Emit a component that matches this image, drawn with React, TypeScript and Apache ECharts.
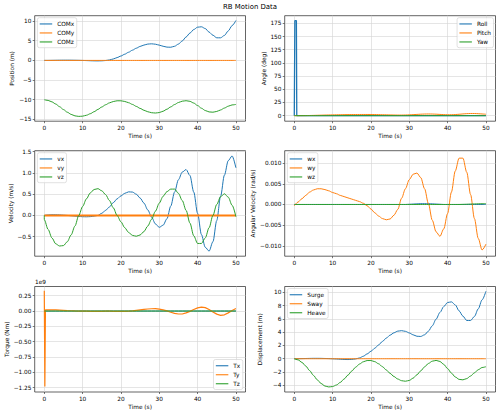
import React, { useEffect, useRef } from "react";
import * as echarts from "echarts";

// ---------- data ----------
const TIME = [0, 1, 2, 3, 4, 5, 6, 7, 8, 9, 10, 11, 12, 13, 14, 15, 16, 17, 18, 19, 20, 21, 22, 23, 24, 25, 26, 27, 28, 29, 30, 31, 32, 33, 34, 35, 36, 37, 38, 39, 40, 41, 42, 43, 44, 45, 46, 47, 48, 49, 50];
const TIME_AFTER_START = [1, 2, 3, 4, 5, 6, 7, 8, 9, 10, 11, 12, 13, 14, 15, 16, 17, 18, 19, 20, 21, 22, 23, 24, 25, 26, 27, 28, 29, 30, 31, 32, 33, 34, 35, 36, 37, 38, 39, 40, 41, 42, 43, 44, 45, 46, 47, 48, 49, 50];

// Position (m)
const COMX = [0, 0.005, 0.02, 0.035, 0.05, 0.06, 0.06, 0.055, 0.04, 0.02, -0.01, -0.04, -0.08, -0.11, -0.12, -0.1, -0.03, 0.12, 0.37, 0.72, 1.12, 1.58, 2.08, 2.6, 3.1, 3.55, 3.9, 4.15, 4.22, 4.12, 3.88, 3.6, 3.38, 3.35, 3.6, 4.15, 4.95, 5.95, 6.95, 7.85, 8.45, 8.55, 8.1, 7.2, 6.4, 5.75, 5.75, 6.35, 7.5, 8.85, 10.15];
const COMY = [0, 0, 0, 0, 0, 0, 0, 0, 0, 0, 0, 0, 0, 0, 0, 0, 0, 0, 0, 0, 0, 0, 0, 0, 0, 0, 0, 0, 0, 0, 0, 0, 0, 0, 0, 0, 0, 0, 0, 0, 0, 0, 0, 0, 0, 0, 0, 0, 0, 0, 0];
const COMZ = [-10, -10.17, -10.55, -11.1, -11.78, -12.5, -13.17, -13.72, -14.1, -14.24, -14.18, -13.95, -13.56, -13.05, -12.46, -11.85, -11.28, -10.8, -10.46, -10.27, -10.27, -10.44, -10.76, -11.19, -11.69, -12.2, -12.67, -13.05, -13.3, -13.38, -13.26, -12.92, -12.41, -11.82, -11.22, -10.71, -10.37, -10.25, -10.41, -10.85, -11.48, -12.16, -12.74, -13.1, -13.17, -12.98, -12.6, -12.12, -11.65, -11.32, -11.2];

// Angle (deg)
const ROLL_START_TIME = [0, 0.15, 0.55, 0.65];
const ROLL_START = [0, 180, 180, 0];
const ROLL = [0, 0, 0, 0, 0, 0, 0, 0, 0, 0, 0, 0, 0, 0, 0, 0, 0, 0, 0, 0, 0, 0, 0, 0, 0, 0, 0, 0, 0, 0, 0, 0, 0, 0, 0, 0, 0, 0, 0, 0, 0, 0, 0, 0, 0, 0, 0, 0, 0, 0];
const PITCH = [0, 0.01, 0.07, 0.17, 0.32, 0.5, 0.71, 0.93, 1.14, 1.34, 1.52, 1.68, 1.81, 1.93, 2.03, 2.11, 2.18, 2.23, 2.26, 2.26, 2.22, 2.13, 1.99, 1.81, 1.61, 1.4, 1.23, 1.12, 1.13, 1.28, 1.56, 1.94, 2.37, 2.77, 3.07, 3.18, 3.08, 2.78, 2.37, 1.98, 1.75, 1.77, 2.09, 2.64, 3.29, 3.83, 4.12, 4.09, 3.76, 3.21, 2.62];
const YAW = [0, 0, 0, 0, 0, 0, 0, 0, 0, 0, 0, 0, 0, 0, 0, 0, 0, 0, 0, 0, 0, 0, 0, 0, 0, 0, 0, 0, 0, 0, 0, 0, 0, 0, 0, 0, 0, 0, 0, 0, 0, 0, 0, 0, 0, 0, 0, 0, 0, 0, 0];

// Velocity (m/s)
const VX = [0, 0.01, 0.015, 0.015, 0.012, 0.006, 0, -0.008, -0.016, -0.024, -0.03, -0.032, -0.028, -0.016, 0, 0.05, 0.12, 0.2, 0.3, 0.39, 0.46, 0.52, 0.555, 0.55, 0.5, 0.41, 0.29, 0.13, -0.04, -0.2, -0.28, -0.23, -0.08, 0.22, 0.55, 0.84, 1.02, 1.08, 0.94, 0.55, 0.05, -0.45, -0.75, -0.84, -0.62, -0.12, 0.45, 0.95, 1.29, 1.4, 1.12];
const VY = [0, 0, 0, 0, 0, 0, 0, 0, 0, 0, 0, 0, 0, 0, 0, 0, 0, 0, 0, 0, 0, 0, 0, 0, 0, 0, 0, 0, 0, 0, 0, 0, 0, 0, 0, 0, 0, 0, 0, 0, 0, 0, 0, 0, 0, 0, 0, 0, 0, 0, 0];
const VZ_INITIAL = 0;
const VZ = [-0.1, -0.33, -0.53, -0.67, -0.72, -0.71, -0.62, -0.46, -0.25, 0, 0.21, 0.39, 0.53, 0.61, 0.63, 0.58, 0.49, 0.35, 0.18, 0, -0.15, -0.29, -0.4, -0.47, -0.49, -0.46, -0.38, -0.25, -0.09, 0.1, 0.29, 0.45, 0.56, 0.62, 0.62, 0.52, 0.35, 0.12, -0.18, -0.48, -0.66, -0.66, -0.53, -0.29, 0, 0.26, 0.44, 0.51, 0.43, 0.24, -0.03];

// Angular velocity (rad/s)
const WX = [0, 0, 0, 0, 0, 0, 0, 0, 0, 0, 0, 0, 0, 0, 0, 0, 0, 0, 0, 0, 0, 0, 0, 0, 0, 0, 0, 0, 0, 0, 0.00005, 0.0001, 0.00015, 0.0002, 0.0002, 0.0002, 0.00015, 0.0001, 0.00005, 0, 0, 0, 0, 0, 0, 0, 0, 0, 0, 0, 0];
const WY = [-0.0003, 0.0006, 0.0014, 0.0022, 0.003, 0.0035, 0.0038, 0.0038, 0.0036, 0.0033, 0.0029, 0.0026, 0.0022, 0.0019, 0.0016, 0.0013, 0.001, 0.0007, 0.0003, -0.0003, -0.0011, -0.002, -0.0028, -0.0034, -0.0037, -0.0035, -0.0026, -0.0012, 0.0015, 0.0038, 0.006, 0.0073, 0.0076, 0.0065, 0.0038, 0.0002, -0.0038, -0.0066, -0.0077, -0.0059, -0.0022, 0.003, 0.0081, 0.0112, 0.0112, 0.0078, 0.0024, -0.0034, -0.0082, -0.011, -0.0096];
const WZ = [0, 0, 0, 0, 0, 0, 0, 0, 0, 0, 0, 0, 0, 0, 0, 0, 0, 0, 0, 0, 0, 0, 0, 0, 0, 0, 0, 0, 0, 0, 0, 0, 0, 0, 0, 0, 0, 0, 0, 0, 0, 0, 0, 0, 0.00003, 0.00006, 0.0001, 0.00013, 0.00016, 0.00018, 0.0002];

// Torque (Nm)
const TX = [0, 0, 0, 0, 0, 0, 0, 0, 0, 0, 0, 0, 0, 0, 0, 0, 0, 0, 0, 0, 0, 0, 0, 0, 0, 0, 0, 0, 0, 0, 0, 0, 0, 0, 0, 0, 0, 0, 0, 0, 0, 0, 0, 0, 0, 0, 0, 0, 0, 0, 0];
const TY_START_TIME = [0, 0.15, 0.3];
const TY_START = [0.33e9, -1.23e9, 0.02e9];
const TY = [0.02e9, 0.02e9, 0.018e9, 0.015e9, 0.012e9, 0.008e9, 0.005e9, 0.002e9, 0, -0.002e9, -0.003e9, -0.004e9, -0.004e9, -0.004e9, -0.004e9, -0.003e9, -0.003e9, -0.004e9, -0.005e9, -0.006e9, -0.005e9, -0.002e9, 0.004e9, 0.012e9, 0.02e9, 0.027e9, 0.033e9, 0.037e9, 0.038e9, 0.032e9, 0.02e9, 0.002e9, -0.02e9, -0.038e9, -0.048e9, -0.048e9, -0.03e9, -0.005e9, 0.025e9, 0.052e9, 0.064e9, 0.055e9, 0.025e9, -0.015e9, -0.05e9, -0.07e9, -0.062e9, -0.03e9, 0.01e9, 0.04e9];
const TZ = [0, 0, 0, 0, 0, 0, 0, 0, 0, 0, 0, 0, 0, 0, 0, 0, 0, 0, 0, 0, 0, 0, 0, 0, 0, 0, 0, 0, 0, 0, 0, 0, 0, 0, 0, 0, 0, 0, 0, 0, 0, 0, 0, 0, 0, 0, 0, 0, 0, 0, 0];

// Displacement (m)
const SURGE = [0, 0.005, 0.02, 0.035, 0.05, 0.06, 0.06, 0.055, 0.04, 0.02, -0.01, -0.04, -0.08, -0.11, -0.12, -0.1, -0.03, 0.12, 0.37, 0.72, 1.12, 1.58, 2.08, 2.6, 3.1, 3.55, 3.9, 4.15, 4.22, 4.12, 3.88, 3.6, 3.38, 3.35, 3.6, 4.15, 4.95, 5.95, 6.95, 7.85, 8.45, 8.55, 8.1, 7.2, 6.4, 5.75, 5.75, 6.35, 7.5, 8.85, 10.15];
const SWAY = [0, 0, 0, 0, 0, 0, 0, 0, 0, 0, 0, 0, 0, 0, 0, 0, 0, 0, 0, 0, 0, 0, 0, 0, 0, 0, 0, 0, 0, 0, 0, 0, 0, 0, 0, 0, 0, 0, 0, 0, 0, 0, 0, 0, 0, 0, 0, 0, 0, 0, 0];
const HEAVE = [0, -0.17, -0.55, -1.1, -1.78, -2.5, -3.17, -3.72, -4.1, -4.24, -4.18, -3.95, -3.56, -3.05, -2.46, -1.85, -1.28, -0.8, -0.46, -0.27, -0.27, -0.44, -0.76, -1.19, -1.69, -2.2, -2.67, -3.05, -3.3, -3.38, -3.26, -2.92, -2.41, -1.82, -1.22, -0.71, -0.37, -0.25, -0.41, -0.85, -1.48, -2.16, -2.74, -3.1, -3.17, -2.98, -2.6, -2.12, -1.65, -1.32, -1.2];

// tick labels
const TIME_TICKS = [0, 10, 20, 30, 40, 50];
const POS_TICKS = [-15, -10, -5, 0, 5, 10];
const ANGLE_TICKS = [0, 25, 50, 75, 100, 125, 150, 175];
const VEL_TICKS = [-0.5, 0, 0.5, 1.0, 1.5];
const ANGVEL_TICKS = [-0.01, -0.005, 0, 0.005, 0.01];
const TORQUE_TICKS = [-1.25e9, -1e9, -0.75e9, -0.5e9, -0.25e9, 0, 0.25e9];
const DISP_TICKS = [-4, -2, 0, 2, 4, 6, 8, 10];

const TITLE = "RB Motion Data";

// ---------- styling ----------
const FONT = "'DejaVu Sans', 'Liberation Sans', sans-serif";
const BLUE = "#1f77b4";
const ORANGE = "#ff7f0e";
const GREEN = "#2ca02c";
const FS = 5.8;
const INK = "#000000";

const xy = (t: number[], v: number[]) => t.map((x, i) => [x, v[i]]);
const fmt = (d: number, scale = 1) => (v: number) => {
  const s = Math.abs(v / scale).toFixed(d);
  return (v < 0 ? "\u2212" : "") + s;
};

const LEFT_COL = 34.7;
const RIGHT_COL = 284.7;
const COL_W = 210.8;
const ROWS = [15.7, 150.7, 286.5];
const ROW_H = 105.5;

function App() {
  const ref = useRef<HTMLDivElement>(null);

  useEffect(() => {
    document.body.style.margin = "0";
    if (!ref.current) return;
    const chart = echarts.init(ref.current, null, { renderer: "svg" });

    const cells = [
      { left: LEFT_COL, top: ROWS[0] },
      { left: RIGHT_COL, top: ROWS[0] },
      { left: LEFT_COL, top: ROWS[1] },
      { left: RIGHT_COL, top: ROWS[1] },
      { left: LEFT_COL, top: ROWS[2] },
      { left: RIGHT_COL, top: ROWS[2] },
    ];

    const grid = cells.map((c) => ({
      left: c.left,
      top: c.top,
      width: COL_W,
      height: ROW_H,
      show: true,
      borderColor: "#222",
      borderWidth: 0.7,
      backgroundColor: "transparent",
      containLabel: false,
      outerBoundsMode: "none",
    }));

    const textStyle = { fontSize: FS, color: INK, fontFamily: FONT, fontWeight: "normal" };

    const xAxis = cells.map((_, i) => ({
      type: "value",
      gridIndex: i,
      min: -2.5,
      max: 52.5,
      minInterval: 10,
      maxInterval: 10,
      name: "Time (s)",
      nameLocation: "middle",
      nameGap: 11.5,
      nameTextStyle: { ...textStyle },
      axisLine: { show: false, onZero: false, lineStyle: { color: INK } },
      axisTick: { show: true, length: 2, customValues: TIME_TICKS, lineStyle: { color: "#222", width: 0.6 } },
      axisLabel: { ...textStyle, margin: 3.6, customValues: TIME_TICKS, formatter: fmt(0) },
      splitLine: { show: true, lineStyle: { color: "#d4d4d4", width: 0.6 } },
    }));

    const yDefs = [
      { name: "Position (m)", min: -15.46, max: 11.37, step: 5, ticks: POS_TICKS, f: fmt(0), gap: 19.2 },
      { name: "Angle (deg)", min: -10.5, max: 189.5, step: 25, ticks: ANGLE_TICKS, f: fmt(0), gap: 16.4 },
      { name: "Velocity (m/s)", min: -0.96, max: 1.524, step: 0.5, ticks: VEL_TICKS, f: fmt(1), gap: 19.2 },
      { name: "Angular Velocity (rad/s)", min: -0.0125, max: 0.013, step: 0.005, ticks: ANGVEL_TICKS, f: fmt(3), gap: 26.4 },
      { name: "Torque (Nm)", min: -1.32e9, max: 0.4e9, step: 0.25e9, ticks: TORQUE_TICKS, f: fmt(2, 1e9), gap: 24.7 },
      { name: "Displacement (m)", min: -5.0, max: 10.86, step: 2, ticks: DISP_TICKS, f: fmt(0), gap: 21.4 },
    ];

    const yAxis = yDefs.map((d, i) => ({
      type: "value",
      gridIndex: i,
      min: d.min,
      max: d.max,
      minInterval: d.step,
      maxInterval: d.step,
      name: d.name,
      nameLocation: "middle",
      nameGap: d.gap,
      nameTextStyle: { ...textStyle },
      axisLine: { show: false, onZero: false, lineStyle: { color: INK } },
      axisTick: { show: true, length: 2, customValues: d.ticks, lineStyle: { color: "#222", width: 0.6 } },
      axisLabel: { ...textStyle, margin: 3.2, customValues: d.ticks, formatter: d.f },
      splitLine: { show: true, lineStyle: { color: "#d4d4d4", width: 0.6 } },
    }));

    const line = (name: string, idx: number, color: string, data: number[][], opts: any = {}) => ({
      type: "line",
      name,
      xAxisIndex: idx,
      yAxisIndex: idx,
      data,
      symbol: "none",
      showSymbol: false,
      smooth: opts.smooth ?? 0.3,
      smoothMonotone: "x",
      color,
      itemStyle: { color },
      lineStyle: { color, width: opts.width ?? 1.0 },
      emphasis: { disabled: true },
      silent: true,
    });

    const series = [
      line("COMx", 0, BLUE, xy(TIME, COMX)),
      line("COMy", 0, ORANGE, xy(TIME, COMY)),
      line("COMz", 0, GREEN, xy(TIME, COMZ)),
      line("Roll", 1, BLUE, [...xy(ROLL_START_TIME, ROLL_START), ...xy(TIME_AFTER_START, ROLL)], { smooth: false, width: 1.3 }),
      line("Pitch", 1, ORANGE, xy(TIME, PITCH)),
      line("Yaw", 1, GREEN, xy(TIME, YAW)),
      line("vx", 2, BLUE, xy(TIME, VX)),
      line("vy", 2, ORANGE, xy(TIME, VY), { width: 1.9 }),
      line("vz", 2, GREEN, [[0, VZ_INITIAL], ...xy(TIME, VZ)]),
      line("wx", 3, BLUE, xy(TIME, WX)),
      line("wy", 3, ORANGE, xy(TIME, WY)),
      line("wz", 3, GREEN, xy(TIME, WZ)),
      line("Tx", 4, BLUE, xy(TIME, TX), { smooth: false }),
      line("Ty", 4, ORANGE, [...xy(TY_START_TIME, TY_START), ...xy(TIME_AFTER_START, TY)], { smooth: false, width: 1.2 }),
      line("Tz", 4, GREEN, xy(TIME, TZ), { smooth: false }),
      line("Surge", 5, BLUE, xy(TIME, SURGE)),
      line("Sway", 5, ORANGE, xy(TIME, SWAY)),
      line("Heave", 5, GREEN, xy(TIME, HEAVE)),
    ];

    const legendBase = {
      orient: "vertical",
      icon: "rect",
      itemWidth: 12.5,
      itemHeight: 1.1,
      itemGap: 2.5,
      padding: [3, 2.5, 2.5, 2.3],
      selectedMode: false,
      backgroundColor: "rgba(255,255,255,0.8)",
      borderColor: "#cccccc",
      borderWidth: 0.6,
      borderRadius: 2,
      textStyle: { ...textStyle, lineHeight: 6.5 },
    };

    const legend = [
      { ...legendBase, data: ["COMx", "COMy", "COMz"], left: 37.4, top: 17.7 },
      { ...legendBase, data: ["Roll", "Pitch", "Yaw"], right: 6.5, top: 17.7 },
      { ...legendBase, data: ["vx", "vy", "vz"], left: 37.4, top: 152.7 },
      { ...legendBase, data: ["wx", "wy", "wz"], left: 287.4, top: 152.7 },
      { ...legendBase, data: ["Tx", "Ty", "Tz"], right: 257.2, bottom: 24.5 },
      { ...legendBase, data: ["Surge", "Sway", "Heave"], left: 287.4, top: 288.5 },
    ];

    chart.setOption({
      animation: false,
      backgroundColor: "#fff",
      textStyle: { fontFamily: FONT, color: INK },
      title: {
        text: TITLE,
        left: "center",
        top: 2.7,
        padding: 0,
        textStyle: { fontSize: 6.95, lineHeight: 8, fontWeight: "normal", color: INK, fontFamily: FONT },
      },
      grid,
      xAxis,
      yAxis,
      legend,
      series,
      graphic: [
        {
          type: "text",
          left: 35,
          top: 278.5,
          style: { text: "1e9", fontSize: FS, fill: INK, fontFamily: FONT },
        },
      ],
    });

    return () => chart.dispose();
  }, []);

  return <div ref={ref} style={{ width: 500, height: 414 }} />;
}

export default App;
